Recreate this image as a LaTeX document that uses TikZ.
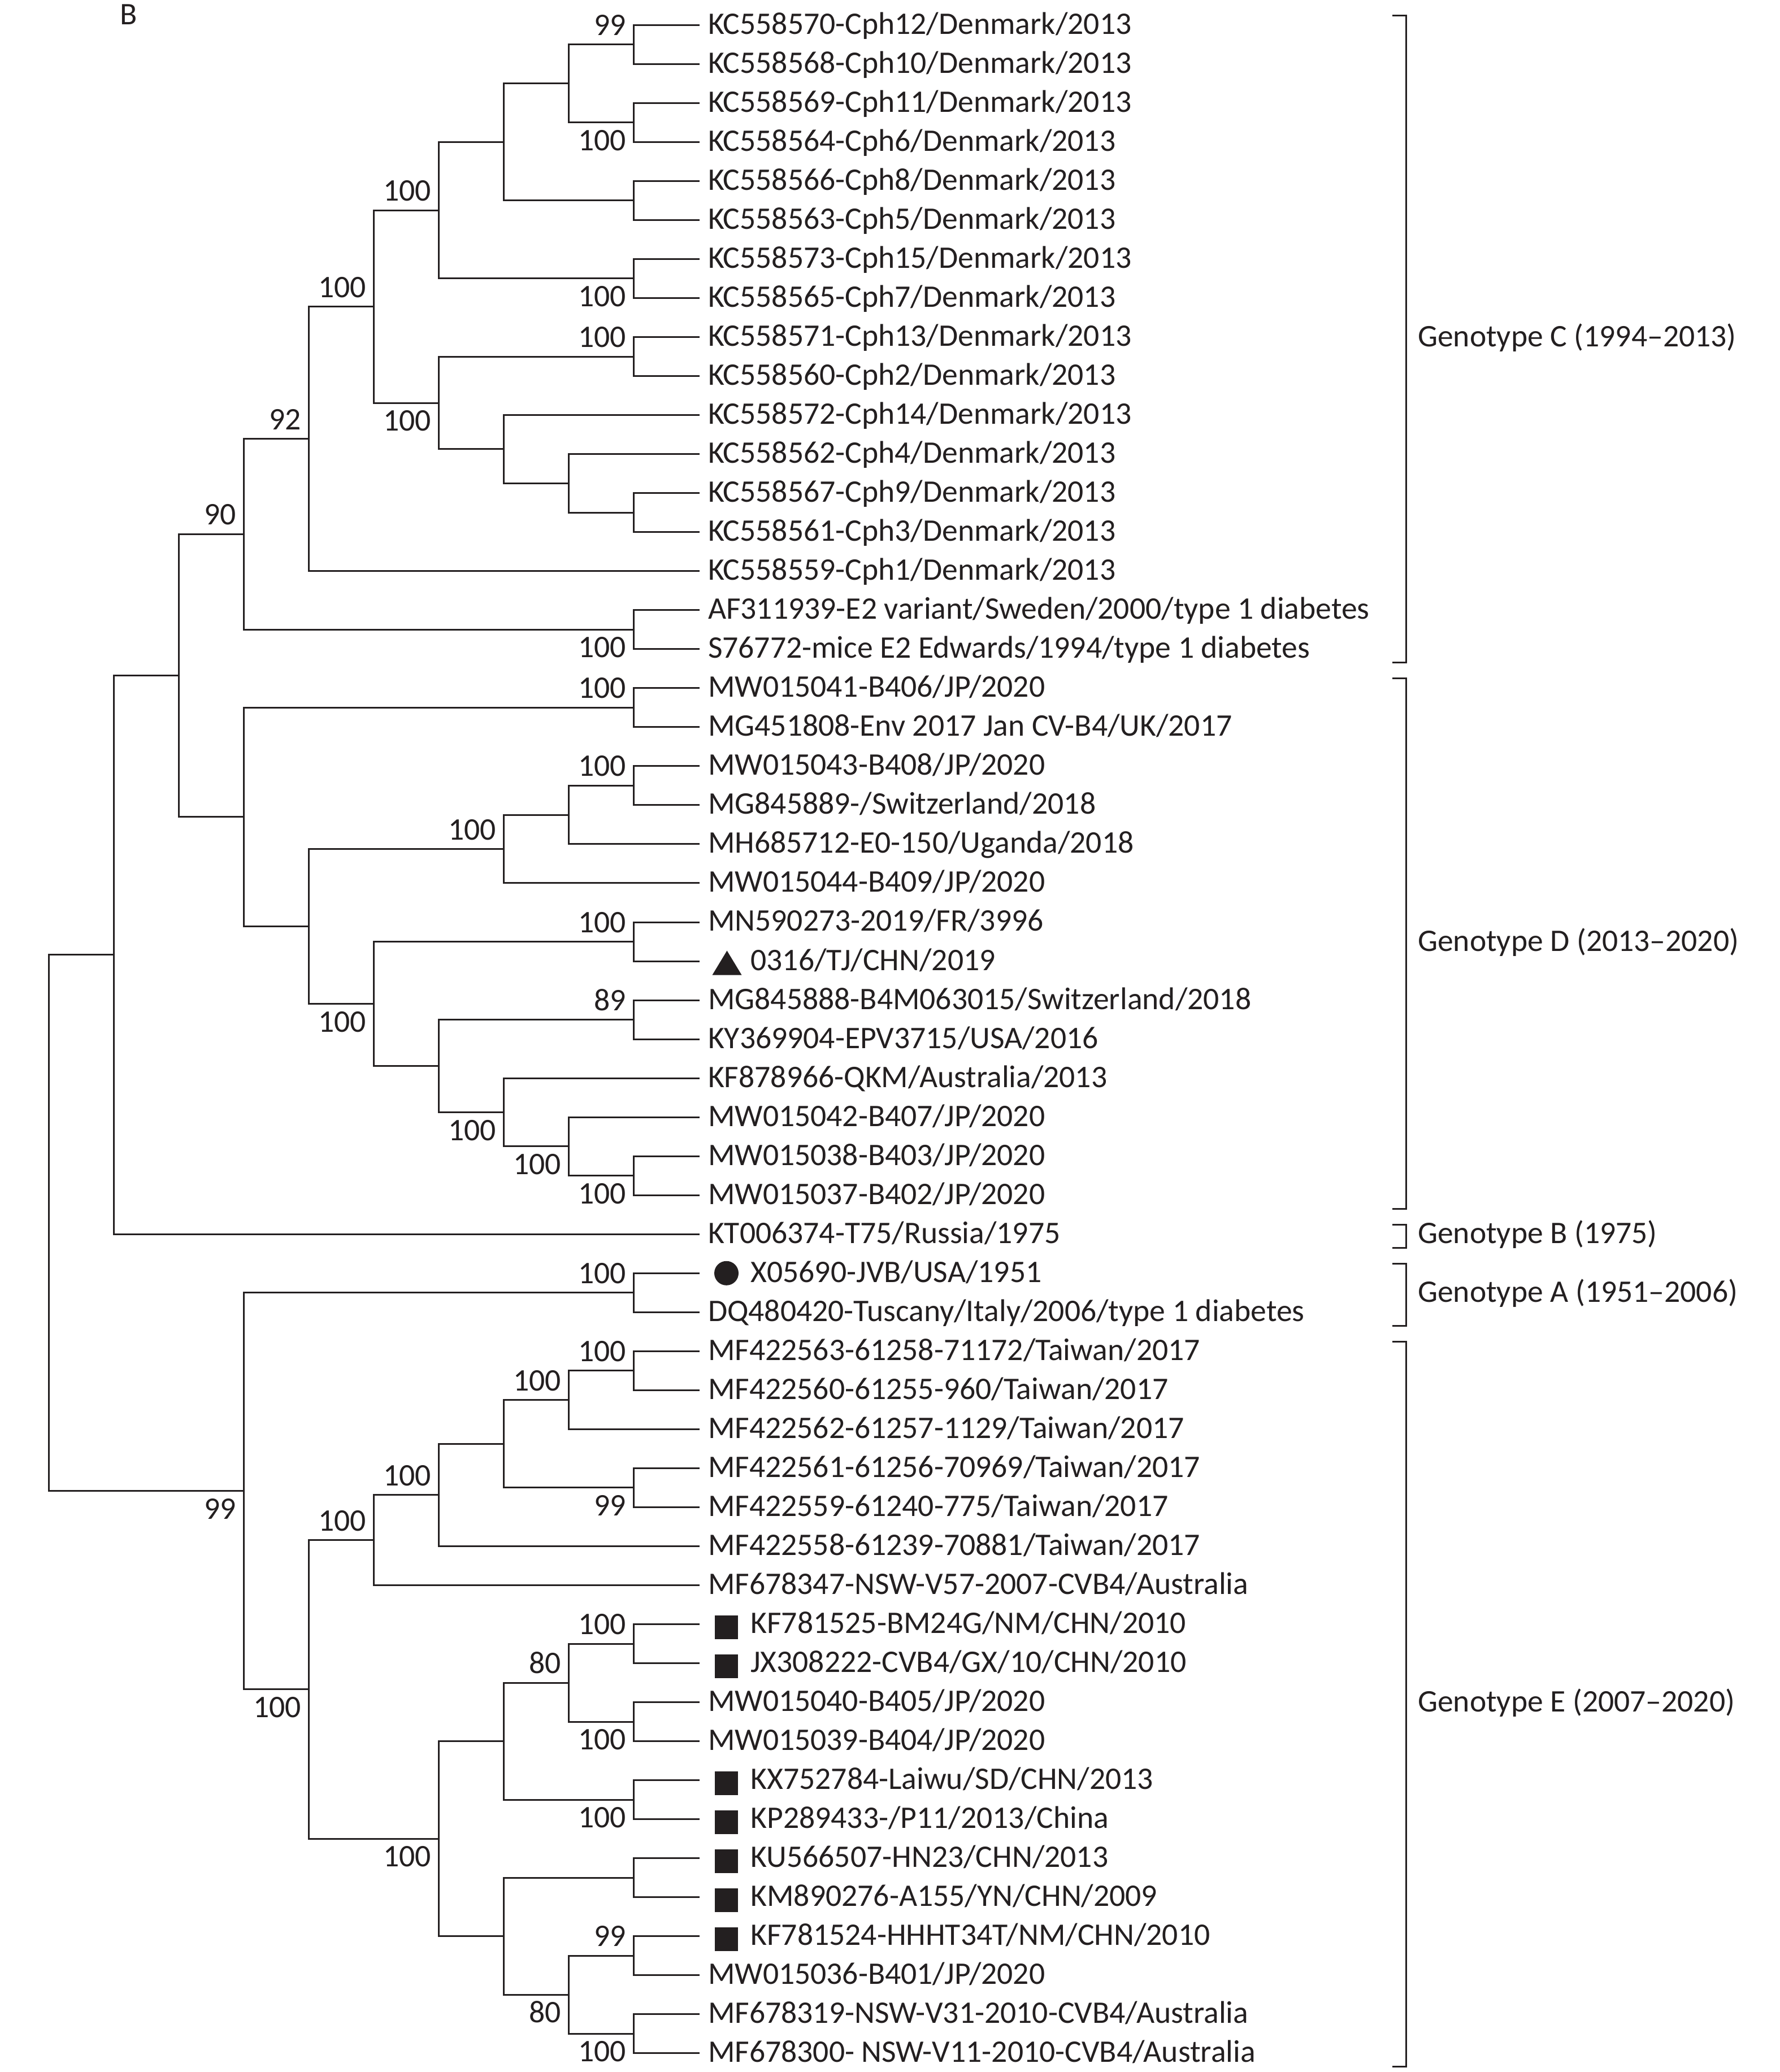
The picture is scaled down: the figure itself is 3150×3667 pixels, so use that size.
\documentclass[tikz,border=0pt]{standalone}
\usepackage{fontspec}
\setmainfont{Carlito}
\definecolor{ink}{RGB}{35,31,32}
\pgfmathdeclarefunction{ly}{1}{\pgfmathparse{44.3+69.03*(#1-1)}}
\pgfmathdeclarefunction{cx}{1}{\pgfmathparse{1121-115*(9-#1)}}
\newcommand\tn[3]{\coordinate (#1) at ({cx(#2)},{ly(#3)});}
\newcommand\leafnode[2]{\coordinate (L#1) at (1237.5,{ly(#1)});
  \node[leaflab] (t#1) at (L#1) {#2};}
\newcommand\sqleaf[2]{\coordinate (L#1) at (1237.5,{ly(#1)});
  \node[sqmark] (m#1) at ([xshift=4.8pt,yshift=-0.55pt]L#1) {};
  \node[mleaflab] (t#1) at (L#1) {#2};}
\newcommand\kids[3]{\draw[branch] (#2) -| (#1) |- (#3);}
\newcommand\bsv[3]{\node[bs#2] (b#1) at (#1) {#3};}
\newcommand\genobr[4]{%
  \draw[brk] (2464,{ly(#2)-17}) -- (2488.5,{ly(#2)-17}) -- (2488.5,{ly(#3)+24}) -- (2464,{ly(#3)+24});
  \node[genolab] (#1) at (2509,{(ly(#2)+ly(#3))/2}) {#4};}
\begin{document}
\begin{tikzpicture}[x=0.1pt,y=-0.1pt,
  font=\fontsize{5.56pt}{6.6pt}\selectfont,
  every node/.style={inner sep=0pt,outer sep=0pt,text=ink},
  branch/.style={draw=ink,line width=0.3pt},
  brk/.style={draw=ink,line width=0.3pt},
  leaflab/.style={anchor=base west,xshift=1.55pt,yshift=-1.6pt},
  mleaflab/.style={anchor=base west,xshift=9.1pt,yshift=-1.6pt},
  sqmark/.style={fill=ink,minimum width=4.15pt,minimum height=4.2pt,draw=none},
  bsa/.style={anchor=base east,xshift=-1.3pt,yshift=1.65pt},
  bsb/.style={anchor=base east,xshift=-1.3pt,yshift=-4.95pt},
  genolab/.style={anchor=base west,yshift=-1.65pt}]
\useasboundingbox (0,0) rectangle (3150,3667);
\node[anchor=base west] (panel) at (212,44) {B};
% leaves
\leafnode{1}{KC558570-Cph12/Denmark/2013}
\leafnode{2}{KC558568-Cph10/Denmark/2013}
\leafnode{3}{KC558569-Cph11/Denmark/2013}
\leafnode{4}{KC558564-Cph6/Denmark/2013}
\leafnode{5}{KC558566-Cph8/Denmark/2013}
\leafnode{6}{KC558563-Cph5/Denmark/2013}
\leafnode{7}{KC558573-Cph15/Denmark/2013}
\leafnode{8}{KC558565-Cph7/Denmark/2013}
\leafnode{9}{KC558571-Cph13/Denmark/2013}
\leafnode{10}{KC558560-Cph2/Denmark/2013}
\leafnode{11}{KC558572-Cph14/Denmark/2013}
\leafnode{12}{KC558562-Cph4/Denmark/2013}
\leafnode{13}{KC558567-Cph9/Denmark/2013}
\leafnode{14}{KC558561-Cph3/Denmark/2013}
\leafnode{15}{KC558559-Cph1/Denmark/2013}
\leafnode{16}{AF311939-E2 variant/Sweden/2000/type 1 diabetes}
\leafnode{17}{S76772-mice E2 Edwards/1994/type 1 diabetes}
\leafnode{18}{MW015041-B406/JP/2020}
\leafnode{19}{MG451808-Env 2017 Jan CV-B4/UK/2017}
\leafnode{20}{MW015043-B408/JP/2020}
\leafnode{21}{MG845889-/Switzerland/2018}
\leafnode{22}{MH685712-E0-150/Uganda/2018}
\leafnode{23}{MW015044-B409/JP/2020}
\leafnode{24}{MN590273-2019/FR/3996}
\coordinate (L25) at (1237.5,{ly(25)});
\fill[ink] ([xshift=2.3pt,yshift=-2.45pt]L25) coordinate (tri1) -- ([xshift=7.5pt,yshift=-2.45pt]L25) -- ([xshift=4.9pt,yshift=1.85pt]L25) -- cycle;
\node[mleaflab] (t25) at (L25) {0316/TJ/CHN/2019};
\leafnode{26}{MG845888-B4M063015/Switzerland/2018}
\leafnode{27}{KY369904-EPV3715/USA/2016}
\leafnode{28}{KF878966-QKM/Australia/2013}
\leafnode{29}{MW015042-B407/JP/2020}
\leafnode{30}{MW015038-B403/JP/2020}
\leafnode{31}{MW015037-B402/JP/2020}
\leafnode{32}{KT006374-T75/Russia/1975}
\coordinate (L33) at (1237.5,{ly(33)});
\node[circle,fill=ink,minimum size=4.3pt] (m33) at ([xshift=4.8pt]L33) {};
\node[mleaflab] (t33) at (L33) {X05690-JVB/USA/1951};
\leafnode{34}{DQ480420-Tuscany/Italy/2006/type 1 diabetes}
\leafnode{35}{MF422563-61258-71172/Taiwan/2017}
\leafnode{36}{MF422560-61255-960/Taiwan/2017}
\leafnode{37}{MF422562-61257-1129/Taiwan/2017}
\leafnode{38}{MF422561-61256-70969/Taiwan/2017}
\leafnode{39}{MF422559-61240-775/Taiwan/2017}
\leafnode{40}{MF422558-61239-70881/Taiwan/2017}
\leafnode{41}{MF678347-NSW-V57-2007-CVB4/Australia}
\sqleaf{42}{KF781525-BM24G/NM/CHN/2010}
\sqleaf{43}{JX308222-CVB4/GX/10/CHN/2010}
\leafnode{44}{MW015040-B405/JP/2020}
\leafnode{45}{MW015039-B404/JP/2020}
\sqleaf{46}{KX752784-Laiwu/SD/CHN/2013}
\sqleaf{47}{KP289433-/P11/2013/China}
\sqleaf{48}{KU566507-HN23/CHN/2013}
\sqleaf{49}{KM890276-A155/YN/CHN/2009}
\sqleaf{50}{KF781524-HHHT34T/NM/CHN/2010}
\leafnode{51}{MW015036-B401/JP/2020}
\leafnode{52}{MF678319-NSW-V31-2010-CVB4/Australia}
\leafnode{53}{MF678300- NSW-V11-2010-CVB4/Australia}
% internal nodes
\tn{Na}{9}{1.5}
\tn{Nb}{9}{3.5}
\tn{NC7}{8}{2.5}
\tn{NC8}{9}{5.5}
\tn{NC5}{7}{4}
\tn{NC6}{9}{7.5}
\tn{NC3}{6}{5.75}
\tn{NC9}{9}{9.5}
\tn{NC12}{9}{13.5}
\tn{NC11}{8}{12.75}
\tn{NC10}{7}{11.875}
\tn{NC4}{6}{10.6875}
\tn{NC2}{5}{8.21875}
\tn{NC1}{4}{11.609375}
\tn{NAF}{9}{16.5}
\tn{NC}{3}{14.0546875}
\tn{ND1}{9}{18.5}
\tn{ND6}{9}{20.5}
\tn{ND5}{8}{21.25}
\tn{ND3}{7}{22.125}
\tn{ND7}{9}{24.5}
\tn{ND9}{9}{26.5}
\tn{ND12}{9}{30.5}
\tn{ND11}{8}{29.75}
\tn{ND10}{7}{28.875}
\tn{ND8}{6}{27.6875}
\tn{ND4}{5}{26.09375}
\tn{ND2}{4}{24.109375}
\tn{ND}{3}{21.3046875}
\tn{N135}{2}{17.6796875}
\tn{N86}{1}{24.83984375}
\tn{NA}{9}{33.5}
\tn{NE7}{9}{35.5}
\tn{NE5}{8}{36.25}
\tn{NE6}{9}{38.5}
\tn{NE4}{7}{37.375}
\tn{NE3}{6}{38.6875}
\tn{NE1}{5}{39.84375}
\tn{NE12}{9}{42.5}
\tn{NE13}{9}{44.5}
\tn{NE10}{8}{43.5}
\tn{NE11}{9}{46.5}
\tn{NE8}{7}{45}
\tn{NE14}{9}{48.5}
\tn{NE16}{9}{50.5}
\tn{NE17}{9}{52.5}
\tn{NE15}{8}{51.5}
\tn{NE9}{7}{50}
\tn{NE2}{6}{47.5}
\tn{NE}{4}{43.671875}
\tn{NAE}{3}{38.5859375}
\tn{R}{0}{31.712890625}
% branches
\kids{R}{N86}{NAE}
\kids{N86}{N135}{L32}
\kids{N135}{NC}{ND}
\kids{NC}{NC1}{NAF}
\kids{NC1}{NC2}{L15}
\kids{NC2}{NC3}{NC4}
\kids{NC3}{NC5}{NC6}
\kids{NC5}{NC7}{NC8}
\kids{NC7}{Na}{Nb}
\kids{Na}{L1}{L2}
\kids{Nb}{L3}{L4}
\kids{NC8}{L5}{L6}
\kids{NC6}{L7}{L8}
\kids{NC4}{NC9}{NC10}
\kids{NC9}{L9}{L10}
\kids{NC10}{L11}{NC11}
\kids{NC11}{L12}{NC12}
\kids{NC12}{L13}{L14}
\kids{NAF}{L16}{L17}
\kids{ND}{ND1}{ND2}
\kids{ND1}{L18}{L19}
\kids{ND2}{ND3}{ND4}
\kids{ND3}{ND5}{L23}
\kids{ND5}{ND6}{L22}
\kids{ND6}{L20}{L21}
\kids{ND4}{ND7}{ND8}
\kids{ND7}{L24}{L25}
\kids{ND8}{ND9}{ND10}
\kids{ND9}{L26}{L27}
\kids{ND10}{L28}{ND11}
\kids{ND11}{L29}{ND12}
\kids{ND12}{L30}{L31}
\kids{NAE}{NA}{NE}
\kids{NA}{L33}{L34}
\kids{NE}{NE1}{NE2}
\kids{NE1}{NE3}{L41}
\kids{NE3}{NE4}{L40}
\kids{NE4}{NE5}{NE6}
\kids{NE5}{NE7}{L37}
\kids{NE7}{L35}{L36}
\kids{NE6}{L38}{L39}
\kids{NE2}{NE8}{NE9}
\kids{NE8}{NE10}{NE11}
\kids{NE10}{NE12}{NE13}
\kids{NE12}{L42}{L43}
\kids{NE13}{L44}{L45}
\kids{NE11}{L46}{L47}
\kids{NE9}{NE14}{NE15}
\kids{NE14}{L48}{L49}
\kids{NE15}{NE16}{NE17}
\kids{NE16}{L50}{L51}
\kids{NE17}{L52}{L53}
% bootstrap values
\bsv{Na}{a}{99}
\bsv{Nb}{b}{100}
\bsv{NC3}{a}{100}
\bsv{NC6}{b}{100}
\bsv{NC9}{a}{100}
\bsv{NC4}{b}{100}
\bsv{NC2}{a}{100}
\bsv{NC1}{a}{92}
\bsv{NAF}{b}{100}
\bsv{NC}{a}{90}
\bsv{ND1}{a}{100}
\bsv{ND6}{a}{100}
\bsv{ND3}{a}{100}
\bsv{ND7}{a}{100}
\bsv{ND9}{a}{89}
\bsv{ND4}{b}{100}
\bsv{ND10}{b}{100}
\bsv{ND11}{b}{100}
\bsv{ND12}{b}{100}
\bsv{NA}{a}{100}
\bsv{NE7}{a}{100}
\bsv{NE5}{a}{100}
\bsv{NE6}{b}{99}
\bsv{NE3}{a}{100}
\bsv{NE1}{a}{100}
\bsv{NAE}{b}{99}
\bsv{NE}{b}{100}
\bsv{NE12}{a}{100}
\bsv{NE10}{a}{80}
\bsv{NE13}{b}{100}
\bsv{NE11}{b}{100}
\bsv{NE2}{b}{100}
\bsv{NE16}{a}{99}
\bsv{NE15}{b}{80}
\bsv{NE17}{b}{100}
% genotype brackets
\genobr{gC}{1}{17}{Genotype C (1994–2013)}
\genobr{gD}{18}{31}{Genotype D (2013–2020)}
\genobr{gB}{32}{32}{Genotype B (1975)}
\genobr{gA}{33}{34}{Genotype A (1951–2006)}
\genobr{gE}{35}{53}{Genotype E (2007–2020)}
\end{tikzpicture}
\end{document}
